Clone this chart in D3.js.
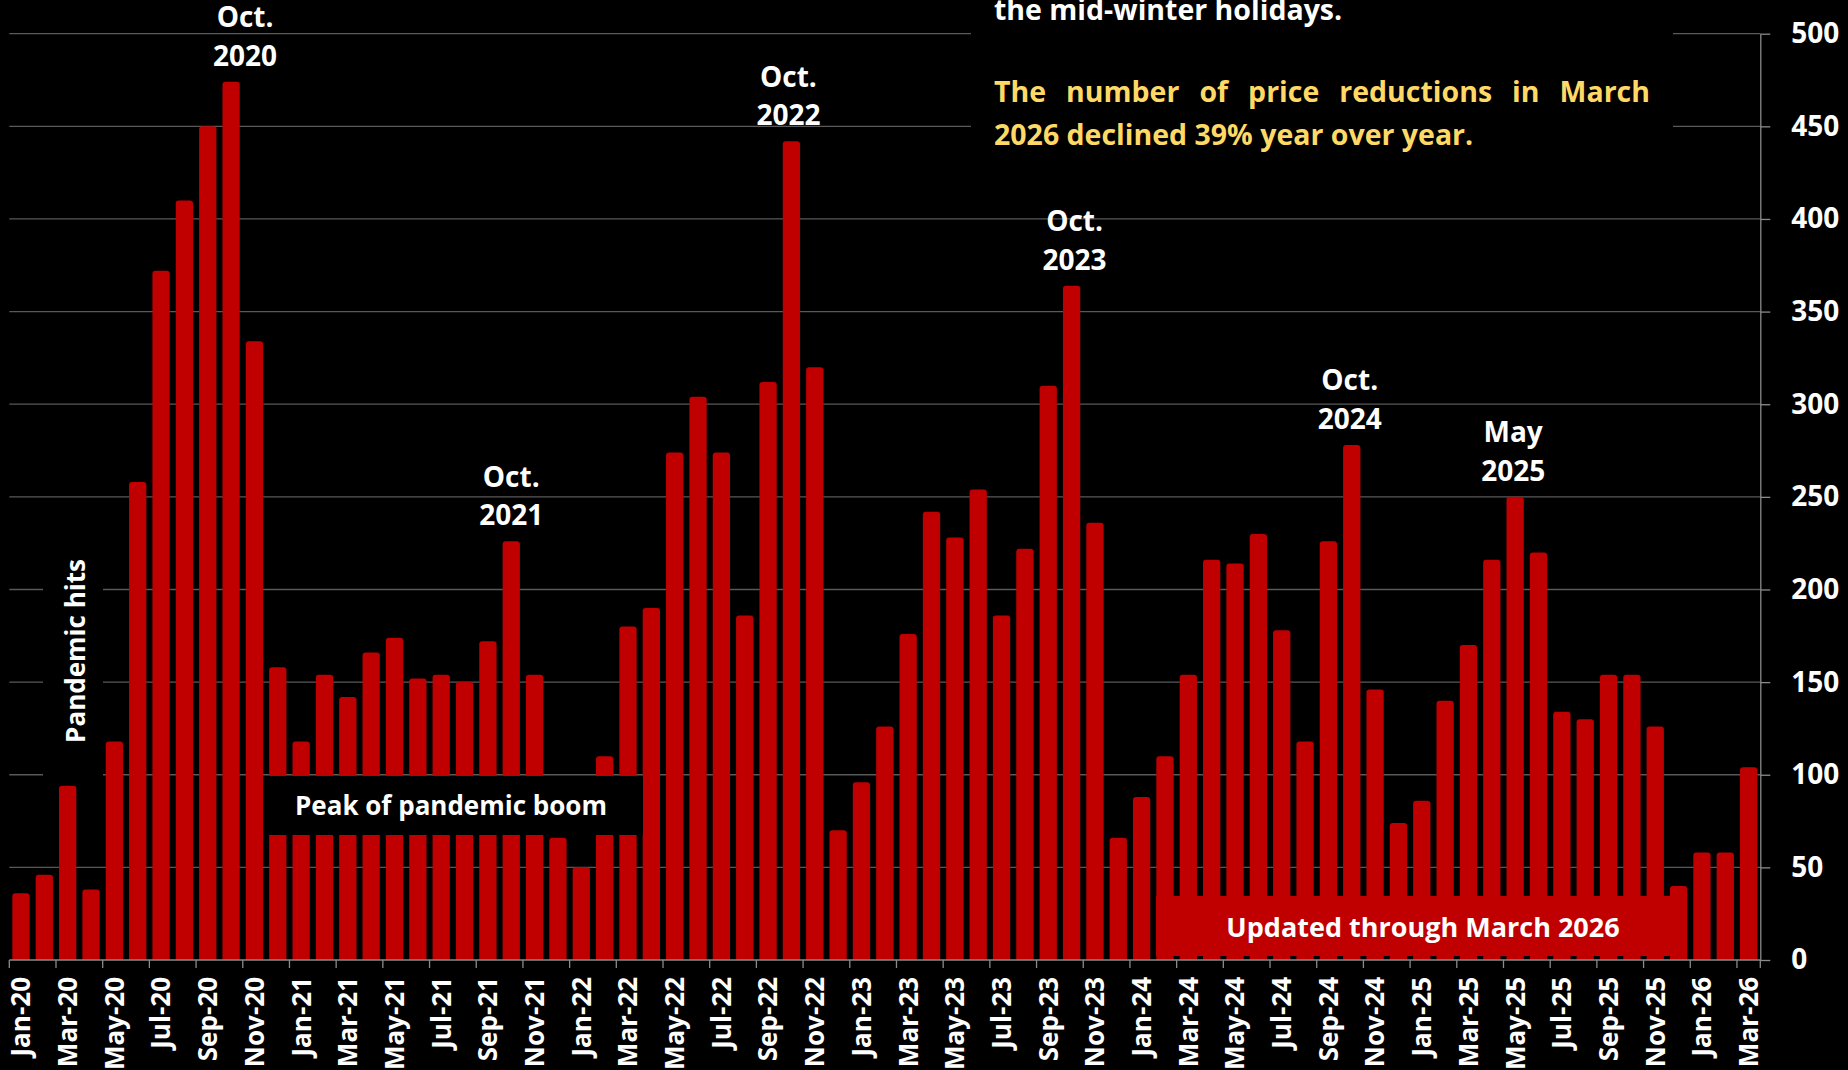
<!DOCTYPE html>
<html>
<head>
<meta charset="utf-8">
<script src="https://cdn.jsdelivr.net/npm/d3@7"></script>
<style>
    html, body { margin: 0; padding: 0; background: #000; overflow: hidden; }
    svg { display: block; font-family: 'Open Sans', sans-serif; font-weight: 700; }
</style>
</head>
<body>
<svg width="1848" height="1070"></svg>
<script>
// **** Data ****

var months = [
    'Jan-20', 'Feb-20', 'Mar-20', 'Apr-20', 'May-20', 'Jun-20', 'Jul-20', 'Aug-20', 'Sep-20', 'Oct-20', 'Nov-20', 'Dec-20',
    'Jan-21', 'Feb-21', 'Mar-21', 'Apr-21', 'May-21', 'Jun-21', 'Jul-21', 'Aug-21', 'Sep-21', 'Oct-21', 'Nov-21', 'Dec-21',
    'Jan-22', 'Feb-22', 'Mar-22', 'Apr-22', 'May-22', 'Jun-22', 'Jul-22', 'Aug-22', 'Sep-22', 'Oct-22', 'Nov-22', 'Dec-22',
    'Jan-23', 'Feb-23', 'Mar-23', 'Apr-23', 'May-23', 'Jun-23', 'Jul-23', 'Aug-23', 'Sep-23', 'Oct-23', 'Nov-23', 'Dec-23',
    'Jan-24', 'Feb-24', 'Mar-24', 'Apr-24', 'May-24', 'Jun-24', 'Jul-24', 'Aug-24', 'Sep-24', 'Oct-24', 'Nov-24', 'Dec-24',
    'Jan-25', 'Feb-25', 'Mar-25', 'Apr-25', 'May-25', 'Jun-25', 'Jul-25', 'Aug-25', 'Sep-25', 'Oct-25', 'Nov-25', 'Dec-25',
    'Jan-26', 'Feb-26', 'Mar-26'
];

// number of price reductions per month
var reductions = [
    36, 46, 94, 38, 118, 258, 372, 410, 450, 474, 334, 158,
    118, 154, 142, 166, 174, 152, 154, 150, 172, 226, 154, 66,
    50, 110, 180, 190, 274, 304, 274, 186, 312, 442, 320, 70,
    96, 126, 176, 242, 228, 254, 186, 222, 310, 364, 236, 66,
    88, 110, 154, 216, 214, 230, 178, 118, 226, 278, 146, 74,
    86, 140, 170, 216, 250, 220, 134, 130, 154, 154, 126, 40,
    58, 58, 104
];

var yTicks = [0, 50, 100, 150, 200, 250, 300, 350, 400, 450, 500];

// peak callouts above the bars
var callouts = [
    { month: 'Oct-20', lines: ['Oct.', '2020'], dx: 14 },
    { month: 'Oct-21', lines: ['Oct.', '2021'], dx: 0 },
    { month: 'Oct-22', lines: ['Oct.', '2022'], dx: -3 },
    { month: 'Oct-23', lines: ['Oct.', '2023'], dx: 3 },
    { month: 'Oct-24', lines: ['Oct.', '2024'], dx: -2 },
    { month: 'May-25', lines: ['May', '2025'], dx: -2 }
];

var noteLines = [
    'the mid-winter holidays.',
    'The number of price reductions in March',
    '2026 declined 39% year over year.'
];

// **** Layout ****

var svg = d3.select('svg');
var plot = { l: 9.3, r: 1760.3, t: 33.7, b: 960 };

var red = '#C00000';
var gridColor = '#595959';
var axisColor = '#8a8a8a';

var x = d3.scaleBand()
    .domain(months)
    .range([plot.l, plot.r])
    .paddingInner(0.26)
    .paddingOuter(0.13);

var y = d3.scaleLinear().domain([0, 500]).range([plot.b, plot.t]);

// gridlines
svg.append('g').attr('class', 'grid')
    .selectAll('line')
    .data(yTicks.filter(d => d > 0))
    .join('line')
    .attr('x1', plot.l).attr('x2', plot.r)
    .attr('y1', d => y(d)).attr('y2', d => y(d))
    .attr('stroke', gridColor)
    .attr('stroke-width', 1.3);

// black text boxes sit on top of the gridlines
svg.append('rect').attr('x', 43).attr('y', 545).attr('width', 60).attr('height', 235).attr('fill', '#000');
svg.append('rect').attr('x', 971).attr('y', 0).attr('width', 702).attr('height', 170).attr('fill', '#000');

// bars, slightly rounded on top
function barPath(d, i) {
    var x0 = x(months[i]);
    var w = x.bandwidth();
    var top = y(d);
    var bottom = y(0);
    var r = 3;
    return `M${x0},${bottom}V${top + r}Q${x0},${top} ${x0 + r},${top}` +
        `H${x0 + w - r}Q${x0 + w},${top} ${x0 + w},${top + r}V${bottom}Z`;
}

svg.append('g').attr('class', 'bars')
    .selectAll('path')
    .data(reductions)
    .join('path')
    .attr('d', barPath)
    .attr('fill', red);

// "Peak of pandemic boom" box covers the bars
svg.append('rect').attr('x', 263).attr('y', 776).attr('width', 380).attr('height', 59).attr('fill', '#000');
svg.append('text')
    .attr('x', 451).attr('y', 815)
    .attr('text-anchor', 'middle')
    .attr('fill', '#fff')
    .style('font-size', '26px')
    .text('Peak of pandemic boom');

// "Updated through" box, same red as the bars
svg.append('rect').attr('x', 1156).attr('y', 896).attr('width', 531).attr('height', 60).attr('fill', red);
svg.append('text')
    .attr('x', 1423).attr('y', 937)
    .attr('text-anchor', 'middle')
    .attr('fill', '#fff')
    .style('font-size', '27px')
    .text('Updated through March 2026');

// x axis
var xAxis = svg.append('g').attr('class', 'x axis');
var step = x.step();
var tickIdx = d3.range(0, months.length, 2);

xAxis.append('line')
    .attr('x1', plot.l).attr('x2', plot.r)
    .attr('y1', y(0)).attr('y2', y(0))
    .attr('stroke', axisColor).attr('stroke-width', 1.3);

xAxis.selectAll('line.tick')
    .data(tickIdx.map(i => x(months[i]) - step * x.paddingOuter()).concat([plot.r]))
    .join('line')
    .attr('class', 'tick')
    .attr('x1', d => d).attr('x2', d => d)
    .attr('y1', y(0)).attr('y2', y(0) + 8)
    .attr('stroke', axisColor).attr('stroke-width', 1.3);

xAxis.selectAll('text')
    .data(tickIdx.map(i => months[i]))
    .join('text')
    .attr('transform', d => `translate(${x(d) + x.bandwidth() / 2}, 977) rotate(-90)`)
    .attr('text-anchor', 'end')
    .attr('dy', '0.36em')
    .attr('fill', '#fff')
    .style('font-size', '26px')
    .text(d => d);

// y axis on the right
var yAxis = svg.append('g').attr('class', 'y axis')
    .attr('transform', `translate(${plot.r}, 0)`)
    .call(d3.axisRight(y).tickValues(yTicks).tickSize(10).tickSizeOuter(0).tickPadding(21));

yAxis.select('.domain').attr('stroke', axisColor).attr('stroke-width', 1.3);
yAxis.selectAll('.tick line').attr('stroke', axisColor).attr('stroke-width', 1.3);
yAxis.selectAll('.tick text')
    .attr('fill', '#fff')
    .style('font-family', "'Open Sans', sans-serif")
    .style('font-weight', 700)
    .style('font-size', '28px');

// callouts over the peaks
callouts.forEach(function(c) {
    var i = months.indexOf(c.month);
    var cx = x(c.month) + x.bandwidth() / 2 + c.dx;
    var base = y(reductions[i]) - 16;
    var t = svg.append('text')
        .attr('text-anchor', 'middle')
        .attr('fill', '#fff')
        .style('font-size', '28px');
    t.append('tspan').attr('x', cx).attr('y', base - 38.5).text(c.lines[0]);
    t.append('tspan').attr('x', cx).attr('y', base).text(c.lines[1]);
});

// "Pandemic hits", rotated
svg.append('text')
    .attr('transform', 'translate(85, 651) rotate(-90)')
    .attr('text-anchor', 'middle')
    .attr('fill', '#fff')
    .style('font-size', '26px')
    .text('Pandemic hits');

// note box, top right
svg.append('text')
    .attr('x', 994).attr('y', 20)
    .attr('fill', '#fff')
    .style('font-size', '28.5px')
    .text(noteLines[0]);

var justified = svg.append('text')
    .attr('x', 994).attr('y', 102)
    .attr('fill', '#FFD966')
    .style('font-size', '28.5px')
    .text(noteLines[1]);

// spread the words to fill the line, like justified text
var natural = justified.node().getComputedTextLength();
var gaps = noteLines[1].split(' ').length - 1;
justified.style('word-spacing', ((1650 - 994 - natural) / gaps) + 'px');

svg.append('text')
    .attr('x', 994).attr('y', 145)
    .attr('fill', '#FFD966')
    .style('font-size', '28.5px')
    .text(noteLines[2]);
</script>
</body>
</html>
